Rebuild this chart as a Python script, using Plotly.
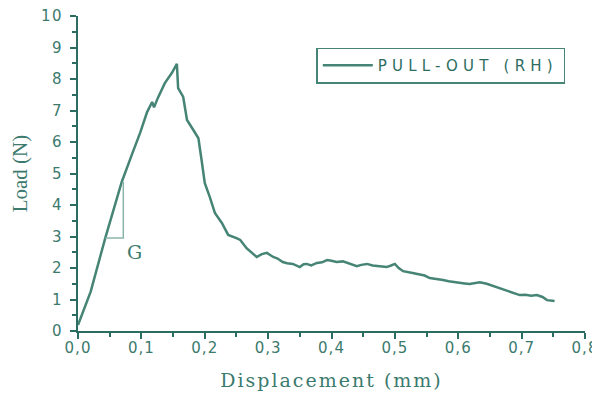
import plotly.graph_objects as go

# Curve
displacement = [0.000, 0.006, 0.020, 0.043, 0.058, 0.069, 0.085, 0.098, 0.109, 0.117,
                0.120, 0.126, 0.137, 0.148, 0.156, 0.158, 0.166, 0.172, 0.182, 0.190,
                0.195, 0.200, 0.208, 0.216, 0.227, 0.237, 0.250, 0.256, 0.266, 0.274,
                0.282, 0.290, 0.298, 0.308, 0.315, 0.323, 0.330, 0.339, 0.345, 0.350,
                0.356, 0.361, 0.368, 0.377, 0.385, 0.393, 0.400, 0.408, 0.418, 0.429,
                0.435, 0.440, 0.447, 0.456, 0.465, 0.476, 0.487, 0.494, 0.500, 0.506,
                0.513, 0.528, 0.539, 0.547, 0.555, 0.565, 0.576, 0.585, 0.593, 0.602,
                0.610, 0.618, 0.626, 0.634, 0.645, 0.655, 0.665, 0.677, 0.687, 0.697,
                0.706, 0.715, 0.724, 0.733, 0.740, 0.746, 0.752]
load = [0.19, 0.50, 1.25, 2.95, 3.95, 4.73, 5.60, 6.29, 6.95, 7.27,
        7.10, 7.40, 7.87, 8.19, 8.48, 7.71, 7.43, 6.70, 6.38, 6.12,
        5.43, 4.70, 4.25, 3.75, 3.43, 3.05, 2.95, 2.89, 2.63, 2.50,
        2.35, 2.44, 2.48, 2.35, 2.30, 2.19, 2.15, 2.13, 2.08, 2.03,
        2.12, 2.13, 2.08, 2.16, 2.18, 2.25, 2.23, 2.19, 2.21, 2.13,
        2.10, 2.06, 2.10, 2.13, 2.08, 2.06, 2.03, 2.08, 2.13, 2.00,
        1.90, 1.84, 1.78, 1.76, 1.68, 1.66, 1.62, 1.58, 1.55, 1.52,
        1.51, 1.49, 1.52, 1.55, 1.50, 1.43, 1.38, 1.30, 1.22, 1.14,
        1.15, 1.12, 1.14, 1.08, 0.98, 0.97, 0.95]

series_name = "PULL-OUT (RH)"
x_ticks = [0.0, 0.1, 0.2, 0.3, 0.4, 0.5, 0.6, 0.7, 0.8]
x_tick_labels = ["0,0", "0,1", "0,2", "0,3", "0,4", "0,5", "0,6", "0,7", "0,8"]
y_ticks = [0, 1, 2, 3, 4, 5, 6, 7, 8, 9, 10]
y_tick_labels = ["0", "1", "2", "3", "4", "5", "6", "7", "8", "9", "10"]

# G slope triangle
g_x = [0.043, 0.0715, 0.0715]
g_y = [2.95, 2.95, 4.73]
g_label_pos = [0.0905, 2.5]

line_color = "#468476"
axis_color = "#2c6d61"
text_color = "#3b7a6d"


def spaced(t, px):
    return f'<span style="letter-spacing:{px}px">{t}</span>'


fig = go.Figure()
fig.add_trace(go.Scatter(
    x=displacement, y=load, mode="lines", name=spaced(series_name, 5.2),
    line=dict(color=line_color, width=2.5),
))
fig.add_trace(go.Scatter(
    x=g_x, y=g_y, mode="lines", showlegend=False, hoverinfo="skip",
    line=dict(color="#8ab5ab", width=1.5),
))
fig.add_annotation(x=g_label_pos[0], y=g_label_pos[1], text=spaced("G", 1), showarrow=False,
                   font=dict(family="DejaVu Serif", size=19, color=text_color))

# page body has an 8px margin, so the figure is sized to fit the 600x393 window
fig.update_layout(
    width=592, height=385,
    margin=dict(l=70, r=15, t=8, b=62),
    plot_bgcolor="white", paper_bgcolor="white",
    showlegend=True,
    legend=dict(x=0.47, y=0.90, xanchor="left", yanchor="top",
                bordercolor=line_color, borderwidth=1.5, bgcolor="white",
                font=dict(family="DejaVu Sans", size=15, color=axis_color),
                itemwidth=50, tracegroupgap=0),
    font=dict(family="DejaVu Sans", color=text_color),
)
fig.update_xaxes(
    range=[0, 0.8], tickvals=x_ticks, ticktext=[spaced(t, 1) for t in x_tick_labels],
    showgrid=False, zeroline=False, showline=True, linecolor=axis_color, linewidth=2,
    ticks="outside", ticklen=6, tickwidth=2, tickcolor=axis_color,
    minor=dict(dtick=0.05, ticks="outside", ticklen=4, tickwidth=2, tickcolor=axis_color),
    tickfont=dict(family="DejaVu Sans", size=15, color=text_color),
    ticklabelstandoff=-4, ticklabeloverflow="allow", automargin=False,
    title=dict(text=spaced("Displacement (mm)", 2), standoff=18,
               font=dict(family="DejaVu Serif", size=19, color=text_color)),
)
fig.update_yaxes(
    range=[0, 10], tickvals=y_ticks, ticktext=[spaced(t, 1.5) for t in y_tick_labels],
    showgrid=False, zeroline=False, showline=True, linecolor=axis_color, linewidth=2,
    ticks="outside", ticklen=6, tickwidth=2, tickcolor=axis_color,
    minor=dict(dtick=0.5, ticks="outside", ticklen=4, tickwidth=2, tickcolor=axis_color),
    tickfont=dict(family="DejaVu Sans", size=15, color=text_color),
    ticklabelstandoff=4, ticklabeloverflow="allow", automargin=False,
    title=dict(text="Load (N)", standoff=19,
               font=dict(family="Liberation Serif", size=21, color=text_color)),
)

fig.write_html("out.html")
